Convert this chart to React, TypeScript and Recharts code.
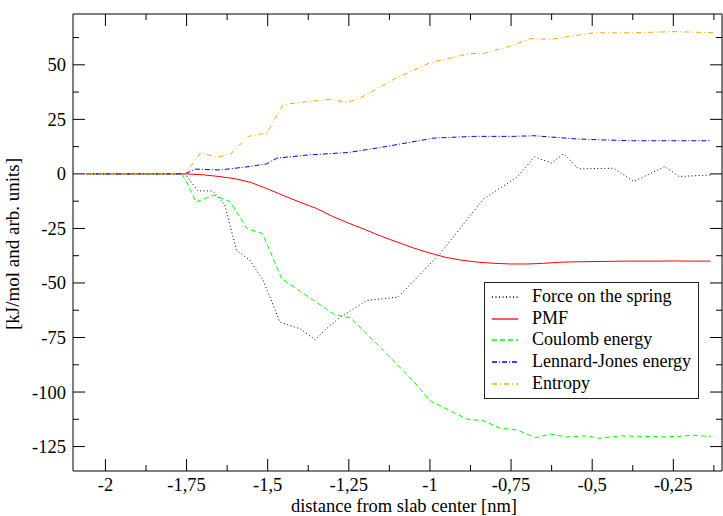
import React from "react";
import { LineChart, Line, XAxis, YAxis, Legend, Label } from "recharts";

// pulling force and energy components along the slab normal
const forceX = [-2.06, -1.755, -1.715, -1.669, -1.632, -1.596, -1.555, -1.514, -1.462, -1.4, -1.354, -1.308, -1.277, -1.194, -1.098, -0.968, -0.835, -0.731, -0.678, -0.626, -0.588, -0.542, -0.434, -0.372, -0.276, -0.233, -0.135];
const forceY = [0, 0, -7.8, -7.8, -14.3, -35, -39.6, -48.8, -68, -71, -76, -69.5, -65.8, -58, -56.5, -36.4, -11.5, -1.4, 7.8, 5, 9.2, 2.3, 2.6, -3.5, 3.4, -1.2, -0.5];

const pmfX = [-2.06, -1.75, -1.7, -1.65, -1.6, -1.55, -1.5, -1.45, -1.4, -1.35, -1.3, -1.25, -1.2, -1.15, -1.1, -1.05, -1, -0.95, -0.9, -0.85, -0.8, -0.75, -0.7, -0.65, -0.6, -0.55, -0.5, -0.45, -0.4, -0.35, -0.3, -0.25, -0.2, -0.135];
const pmfY = [0, 0, -0.4, -1.2, -2.2, -4, -6.9, -10, -13, -15.8, -19.5, -22.6, -25.5, -28.6, -31.3, -34, -36.3, -38.3, -39.6, -40.5, -41, -41.3, -41.3, -41, -40.5, -40.3, -40.2, -40.1, -40, -40, -40, -39.9, -40, -40];

const coulombX = [-2.06, -1.765, -1.75, -1.721, -1.666, -1.616, -1.564, -1.516, -1.457, -1.298, -1.261, -1.246, -1.143, -1.052, -0.999, -0.886, -0.835, -0.783, -0.731, -0.675, -0.628, -0.577, -0.515, -0.48, -0.413, -0.269, -0.186, -0.134];
const coulombY = [0, 0, -3.5, -12.9, -9.7, -12.7, -25, -27.3, -48, -64.1, -65.6, -65.8, -81, -94.8, -104, -112.4, -113.2, -116.6, -117.4, -120.9, -119.3, -120.6, -120.1, -121.2, -120.1, -120.6, -119.8, -120.4];

const ljX = [-2.06, -1.755, -1.724, -1.647, -1.555, -1.503, -1.472, -1.375, -1.251, -1.133, -0.989, -0.865, -0.742, -0.68, -0.546, -0.474, -0.372, -0.268, -0.135];
const ljY = [0, 0, 2.2, 1.8, 3.4, 4.6, 7.2, 8.7, 9.8, 12.6, 16.4, 17.2, 17.2, 17.5, 16, 15.6, 15.2, 15.2, 15.2];

const entropyX = [-2.06, -1.755, -1.706, -1.657, -1.613, -1.56, -1.503, -1.452, -1.369, -1.305, -1.256, -1.215, -1.112, -0.999, -0.876, -0.835, -0.752, -0.69, -0.628, -0.495, -0.372, -0.248, -0.12];
const entropyY = [0, 0, 9.8, 7.5, 9.2, 17.2, 18.7, 31.8, 33.3, 34.2, 32.7, 34.8, 43.3, 51, 55.2, 55.2, 58.6, 62, 61.7, 64.7, 64.7, 65.2, 64.7];

const xTicks = [-2, -1.875, -1.75, -1.625, -1.5, -1.375, -1.25, -1.125, -1, -0.875, -0.75, -0.625, -0.5, -0.375, -0.25, -0.125];
const yTicks = [-125, -112.5, -100, -87.5, -75, -62.5, -50, -37.5, -25, -12.5, 0, 12.5, 25, 37.5, 50, 62.5];

const xDomain = [-2.1, -0.1];
const yDomain = [-136.2, 73.3];

const toPoints = (xs: number[], ys: number[]) => xs.map((x, i) => ({ x, y: ys[i] }));

const series = [
  { name: "Force on the spring", data: toPoints(forceX, forceY), color: "#000000", dash: "1 2.5" },
  { name: "PMF", data: toPoints(pmfX, pmfY), color: "#ff0000", dash: undefined },
  { name: "Coulomb energy", data: toPoints(coulombX, coulombY), color: "#00ff00", dash: "5 3" },
  { name: "Lennard-Jones energy", data: toPoints(ljX, ljY), color: "#0000ff", dash: "5 2 1 2" },
  { name: "Entropy", data: toPoints(entropyX, entropyY), color: "#ffa500", dash: "5 3 1 3" },
];

const FONT = "'Liberation Serif', 'Times New Roman', serif";
const MAJOR = 12;
const MINOR = 6;

const isMajor = (v: number, step: number) => Math.abs(v / step - Math.round(v / step)) < 1e-6;
const fmt = (v: number) => String(v).replace(".", ",");

// ticks point into the plot; labels only on the bottom and left sides
const BottomTick = (props: any) => {
  const { x, y, payload } = props;
  const major = isMajor(payload.value, 0.25);
  return (
    <g>
      <line x1={x} x2={x} y1={y} y2={y - (major ? MAJOR : MINOR)} stroke="#000" />
      {major && (
        <text x={x} y={y + 20} textAnchor="middle" fontFamily={FONT} fontSize={18.5} fill="#000">
          {fmt(payload.value)}
        </text>
      )}
    </g>
  );
};

const TopTick = (props: any) => {
  const { x, y, payload } = props;
  const major = isMajor(payload.value, 0.25);
  return <line x1={x} x2={x} y1={y} y2={y + (major ? MAJOR : MINOR)} stroke="#000" />;
};

const LeftTick = (props: any) => {
  const { x, y, payload } = props;
  const major = isMajor(payload.value, 25);
  return (
    <g>
      <line x1={x} x2={x + (major ? MAJOR : MINOR)} y1={y} y2={y} stroke="#000" />
      {major && (
        <text x={x - 7} y={y} dy="0.35em" textAnchor="end" fontFamily={FONT} fontSize={18.5} fill="#000">
          {fmt(payload.value)}
        </text>
      )}
    </g>
  );
};

const RightTick = (props: any) => {
  const { x, y, payload } = props;
  const major = isMajor(payload.value, 25);
  return <line x1={x} x2={x - (major ? MAJOR : MINOR)} y1={y} y2={y} stroke="#000" />;
};

const LegendBox = () => (
  <div
    style={{
      width: 215,
      height: 117,
      boxSizing: "border-box",
      border: "1px solid #222",
      background: "#fff",
      paddingTop: 3,
      fontFamily: FONT,
      fontSize: 18,
      color: "#000",
    }}
  >
    {series.map((s) => (
      <div key={s.name} style={{ height: 21.7, display: "flex", alignItems: "center" }}>
        <svg width={47} height={10} style={{ flex: "none" }}>
          <line x1={7} x2={33} y1={5} y2={5} stroke={s.color} strokeDasharray={s.dash} strokeWidth={1.3} />
        </svg>
        <span style={{ lineHeight: "21.7px", whiteSpace: "nowrap" }}>{s.name}</span>
      </div>
    ))}
  </div>
);

export default function App() {
  return (
    <div style={{ position: "absolute", left: 0, top: 0, background: "#fff" }}>
      <LineChart width={723} height={516} margin={{ top: 13, right: 0, bottom: 0, left: 0 }}>
        <XAxis
          type="number"
          dataKey="x"
          domain={xDomain}
          ticks={xTicks}
          interval={0}
          allowDataOverflow
          height={45}
          tickSize={0}
          tickMargin={0}
          tickLine={false}
          tick={<BottomTick />}
          axisLine={{ stroke: "#000" }}
        >
          <Label
            content={() => (
              <text x={404} y={512} textAnchor="middle" fontFamily={FONT} fontSize={18.5} fill="#000">
                distance from slab center [nm]
              </text>
            )}
          />
        </XAxis>
        {/* mirrored frame axes; a zero-size axis is skipped, so give them 1px */}
        <XAxis
          xAxisId="top"
          orientation="top"
          type="number"
          dataKey="x"
          domain={xDomain}
          ticks={xTicks}
          interval={0}
          allowDataOverflow
          height={1}
          tickSize={0}
          tickMargin={0}
          tickLine={false}
          tick={<TopTick />}
          axisLine={{ stroke: "#000" }}
        />
        <YAxis
          type="number"
          dataKey="y"
          domain={yDomain}
          ticks={yTicks}
          interval={0}
          allowDataOverflow
          width={73}
          tickSize={0}
          tickMargin={0}
          tickLine={false}
          tick={<LeftTick />}
          axisLine={{ stroke: "#000" }}
        >
          <Label
            content={() => (
              <text
                x={19}
                y={244}
                transform="rotate(-90 19 244)"
                textAnchor="middle"
                fontFamily={FONT}
                fontSize={19}
                fill="#000"
              >
                [kJ/mol and arb. units]
              </text>
            )}
          />
        </YAxis>
        <YAxis
          yAxisId="right"
          orientation="right"
          type="number"
          dataKey="y"
          domain={yDomain}
          ticks={yTicks}
          interval={0}
          allowDataOverflow
          width={1}
          tickSize={0}
          tickMargin={0}
          tickLine={false}
          tick={<RightTick />}
          axisLine={{ stroke: "#000" }}
        />
        <Legend
          layout="vertical"
          align="center"
          verticalAlign="middle"
          content={<LegendBox />}
          wrapperStyle={{ position: "absolute", left: 484, top: 282, width: 215, height: 117 }}
        />
        {series.map((s) => (
          <Line
            key={s.name}
            name={s.name}
            data={s.data}
            dataKey="y"
            type="linear"
            stroke={s.color}
            strokeWidth={1}
            strokeDasharray={s.dash}
            dot={false}
            activeDot={false}
            isAnimationActive={false}
          />
        ))}
        {/* unstroked copy of the PMF so the mirrored axes have a series bound to them */}
        <Line
          xAxisId="top"
          yAxisId="right"
          data={series[1].data}
          dataKey="y"
          stroke="none"
          dot={false}
          activeDot={false}
          legendType="none"
          isAnimationActive={false}
        />
      </LineChart>
    </div>
  );
}
